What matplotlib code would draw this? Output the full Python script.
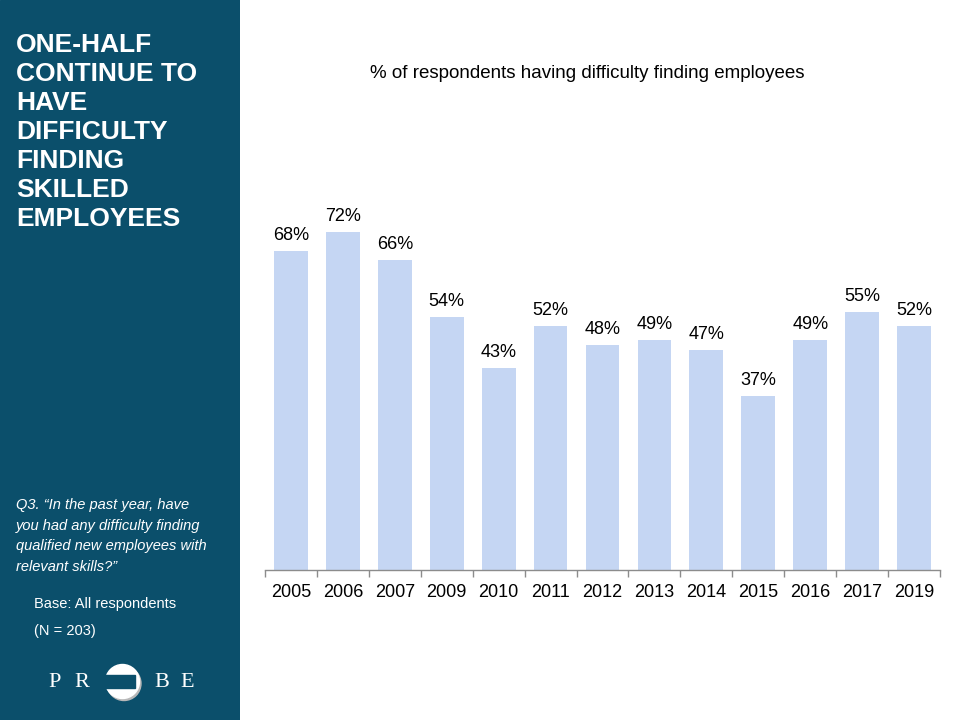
import matplotlib
matplotlib.use("Agg")
import matplotlib.pyplot as plt
from matplotlib.patches import Rectangle, Circle

plt.rcParams['font.family'] = ['Liberation Sans', 'DejaVu Sans']

years = ["2005", "2006", "2007", "2009", "2010", "2011", "2012", "2013",
         "2014", "2015", "2016", "2017", "2019"]
values = [68, 72, 66, 54, 43, 52, 48, 49, 47, 37, 49, 55, 52]

panel_color = "#0b4f6b"
bar_color = "#c5d6f3"

fig = plt.figure(figsize=(9.6, 7.2), dpi=100)

# Left panel
panel = fig.add_axes([0, 0, 240 / 960, 1])
panel.set_xlim(0, 240)
panel.set_ylim(720, 0)
panel.axis("off")
panel.add_patch(Rectangle((0, 0), 240, 720, color=panel_color, zorder=0))

title_lines = ["ONE-HALF", "CONTINUE TO", "HAVE", "DIFFICULTY", "FINDING",
               "SKILLED", "EMPLOYEES"]
for i, line in enumerate(title_lines):
    panel.text(16, 45 + i * 29, line, color="white", fontsize=19,
               fontweight="bold", va="center", ha="left")

q_lines = ["Q3. \u201cIn the past year, have", "you had any difficulty finding",
           "qualified new employees with", "relevant skills?\u201d"]
for i, line in enumerate(q_lines):
    panel.text(16, 505 + i * 20.7, line, color="white", fontsize=10.5,
               style="italic", va="center", ha="left")

panel.text(34, 604, "Base: All respondents", color="white", fontsize=10.5,
           va="center", ha="left")
panel.text(34, 631, "(N = 203)", color="white", fontsize=10.5,
           va="center", ha="left")

# Logo
for ch, x in [("P", 55), ("R", 82), ("B", 162), ("E", 187)]:
    panel.text(x, 687, ch, color="white", fontsize=16, family="Liberation Serif",
               ha="center", va="baseline")
panel.add_patch(Circle((124, 683.5), 17, color="#b8b8b8", zorder=2))
panel.add_patch(Circle((122.5, 681.5), 17, color="white", zorder=3))
panel.add_patch(Rectangle((104, 675), 31, 13, color=panel_color, zorder=4))

# Chart
ax = fig.add_axes([265 / 960, 150 / 720, 675 / 960, 469 / 720])
x = list(range(len(years)))
ax.bar(x, values, width=0.65, color=bar_color, zorder=2)
ax.set_xlim(-0.5, len(years) - 0.5)
ax.set_ylim(0, 100)
for xi, v in zip(x, values):
    ax.text(xi, v + 1.5, f"{v}%", ha="center", va="bottom", fontsize=13,
            color="black")

for s in ["top", "right", "left"]:
    ax.spines[s].set_visible(False)
ax.spines["bottom"].set_color("#8c8c8c")
ax.spines["bottom"].set_linewidth(1)
ax.set_yticks([])
ax.set_xticks([i - 0.5 for i in range(len(years) + 1)], minor=False)
ax.set_xticklabels([])
ax.tick_params(axis="x", which="major", length=5, color="#8c8c8c", width=1)
ax.set_xticks(x, minor=True)
ax.set_xticklabels(years, minor=True, fontsize=13)
ax.tick_params(axis="x", which="minor", length=0, pad=10)

fig.text(587 / 960, 1 - 73 / 720, "% of respondents having difficulty finding employees",
         ha="center", va="center", fontsize=13.5, color="black")

fig.savefig("out.png", dpi=100)
